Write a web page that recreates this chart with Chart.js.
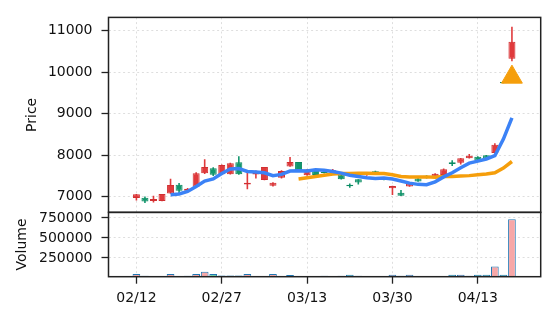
<!DOCTYPE html>
<html>
<head>
<meta charset="utf-8">
<script src="https://cdn.jsdelivr.net/npm/chart.js@4.4.1/dist/chart.umd.min.js"></script>
<style>
  html, body { margin: 0; padding: 0; background: #fff; }
  canvas { display: block; }
</style>
</head>
<body>
<canvas id="chart" width="556" height="322"></canvas>
<script>
// trading days, one candle each
const dates = ["02/12","02/13","02/17","02/18","02/19","02/20","02/23","02/24","02/25","02/26",
  "02/27","03/02","03/03","03/04","03/05","03/06","03/09","03/10","03/11","03/12",
  "03/13","03/16","03/17","03/18","03/19","03/20","03/23","03/24","03/25","03/26",
  "03/30","03/31","04/01","04/02","04/03","04/06","04/07","04/08","04/09","04/10",
  "04/13","04/14","04/15","04/16","04/17"];

const opens = [6970,6980,6900,6900,7080,7290,7145,7240,7565,7690,
  7545,7545,7830,7295,7535,7405,7265,7460,7730,7835,
  7520,7655,7600,7600,7540,7290,7420,7520,7615,7450,
  7205,7100,7250,7440,7510,7485,7525,7830,7820,7930,
  7965,8000,8055,9765,10320];
const closes = [7060,6885,6950,7065,7285,7145,7195,7570,7720,7530,
  7765,7805,7545,7340,7580,7715,7340,7620,7840,7645,
  7660,7525,7575,7640,7420,7255,7345,7545,7560,7420,
  7260,7025,7325,7370,7450,7555,7665,7790,7930,7990,
  7875,7925,8255,9735,10730];
const highs = [7065,7005,7025,7070,7435,7330,7210,7590,7905,7710,
  7780,7820,7975,7580,7635,7720,7350,7640,7960,7840,
  7670,7660,7610,7670,7545,7320,7425,7555,7625,7465,
  7265,7165,7330,7450,7520,7565,7680,7880,7935,8030,
  7975,8005,8290,9770,11095];
const lows = [6910,6850,6865,6895,7075,7090,7140,7230,7550,7500,
  7540,7535,7530,7185,7440,7400,7250,7440,7725,7640,
  7510,7515,7560,7595,7415,7220,7295,7510,7555,7400,
  7045,7020,7240,7360,7440,7480,7520,7740,7780,7925,
  7870,7920,8040,9730,10260];
const volumes = [48000,27000,25000,21000,48000,22000,26000,48000,77000,48000,
  30000,30000,30000,48000,22000,23000,48000,22000,36000,22000,
  21000,22000,28000,20000,28000,40000,28000,19000,19000,20000,
  40000,28000,40000,20000,19000,20000,21000,40000,40000,28000,
  40000,40000,142000,40000,733000];

const ma5 = [null,null,null,null,7050,7070,7130,7250,7380,7430,
  7560,7670,7680,7610,7600,7580,7510,7540,7620,7630,
  7620,7650,7640,7610,7570,7520,7490,7460,7440,7450,
  7430,7380,7330,7300,7290,7360,7480,7580,7700,7810,
  7860,7910,7990,8390,8900];
const ma20 = [null,null,null,null,null,null,null,null,null,null,
  null,null,null,null,null,null,null,null,null,7430,
  7460,7490,7520,7550,7560,7560,7570,7570,7560,7560,
  7530,7490,7480,7480,7480,7470,7490,7490,7500,7510,
  7530,7550,7580,7690,7850];

const signalIdx = [44];
const signalPrice = [9880];

const priceTicks = [7000, 8000, 9000, 10000, 11000];
const volTicks = [250000, 500000, 750000];
const dateTicks = [0, 10, 20, 30, 40];

const RED = "#e03a3c", RED_EDGE = "#d12f31";
const GREEN = "#12976e", GREEN_EDGE = "#0c8a62";
const GRID = "#dedede";

const isUp = closes.map((c, i) => c >= opens[i]);

Chart.defaults.font.family = "DejaVu Sans";
Chart.defaults.font.size = 14;
Chart.defaults.color = "#111";

const framePlugin = {
  id: "frame",
  afterDraw(chart) {
    const {ctx, chartArea} = chart;
    ctx.save();
    ctx.strokeStyle = "#222";
    ctx.lineWidth = 1.5;
    ["y", "yv"].forEach(id => {
      let s = chart.scales[id];
      ctx.strokeRect(chartArea.left, s.top, chartArea.right - chartArea.left, s.bottom - s.top);
    });
    ctx.restore();
  }
};

const gridOpts = {
  color: GRID,
  lineWidth: 1,
  offset: false,
  tickLength: 7,
  tickColor: "#222",
  tickWidth: 1.3
};

new Chart(document.getElementById("chart"), {
  data: {
    datasets: [
      {
        type: "line",
        data: signalIdx.map((x, i) => ({x: x, y: signalPrice[i]})),
        showLine: false,
        pointStyle: "triangle",
        pointRadius: 12,
        backgroundColor: "#f59e0b",
        borderColor: "#f59e0b",
        borderWidth: 1,
        order: 0
      },
      {
        type: "line",
        data: ma5.map((v, i) => ({x: i, y: v})),
        borderColor: "#3b82f6",
        borderWidth: 3.5,
        pointRadius: 0,
        tension: 0,
        order: 1
      },
      {
        type: "line",
        data: ma20.map((v, i) => ({x: i, y: v})),
        borderColor: "#f59e0b",
        borderWidth: 3.5,
        pointRadius: 0,
        tension: 0,
        order: 1
      },
      {
        type: "bar",
        data: dates.map((d, i) => ({x: i, y: [opens[i], closes[i]]})),
        backgroundColor: isUp.map(u => u ? RED : GREEN),
        borderColor: isUp.map(u => u ? RED_EDGE : GREEN_EDGE),
        borderWidth: 1,
        borderSkipped: false,
        grouped: false,
        barPercentage: 0.82,
        categoryPercentage: 1,
        order: 2
      },
      {
        type: "bar",
        data: dates.map((d, i) => ({x: i, y: [lows[i], highs[i]]})),
        backgroundColor: isUp.map(u => u ? RED : GREEN),
        borderWidth: 0,
        grouped: false,
        maxBarThickness: 1.6,
        order: 3
      },
      {
        type: "bar",
        yAxisID: "yv",
        data: dates.map((d, i) => ({x: i, y: volumes[i]})),
        backgroundColor: isUp.map(u => u ? "#f7a7a7" : "#74d6ab"),
        borderColor: "#1f77b4",
        borderWidth: 1,
        borderSkipped: false,
        grouped: false,
        barPercentage: 0.9,
        categoryPercentage: 1,
        order: 4
      }
    ]
  },
  options: {
    responsive: false,
    animation: false,
    layout: { padding: { top: 14.7, right: 15.3, bottom: 0, left: 0 } },
    plugins: {
      legend: { display: false },
      tooltip: { enabled: false }
    },
    scales: {
      x: {
        type: "linear",
        offset: false,
        min: -3.27,
        max: 47.37,
        grid: gridOpts,
        border: { display: false, dash: [2, 2.7] },
        ticks: {
          autoSkip: false,
          maxRotation: 0,
          padding: 6,
          callback: v => dates[v]
        },
        afterBuildTicks: s => { s.ticks = dateTicks.map(v => ({value: v})) },
        afterFit: s => { s.height = 45.3 }
      },
      y: {
        type: "linear",
        position: "left",
        stack: "panels",
        stackWeight: 197,
        weight: 1,
        min: 6626,
        max: 11317,
        grid: gridOpts,
        border: { display: false, dash: [2, 2.7] },
        ticks: { padding: 9, autoSkip: false, callback: v => String(v) },
        afterBuildTicks: s => { s.ticks = priceTicks.map(v => ({value: v})) },
        afterFit: s => { s.width = 108.5 },
        title: { display: true, text: "Price", padding: { top: 23.6, bottom: 0 } }
      },
      yv: {
        type: "linear",
        position: "left",
        stack: "panels",
        stackWeight: 65,
        weight: 0,
        min: 15000,
        max: 819000,
        grid: gridOpts,
        border: { display: false, dash: [2, 2.7] },
        ticks: { padding: 9, autoSkip: false, callback: v => String(v) },
        afterBuildTicks: s => { s.ticks = volTicks.map(v => ({value: v})) },
        afterFit: s => { s.width = 108.5 },
        title: { display: true, text: "Volume", padding: { top: 13.6, bottom: 0 } }
      }
    }
  },
  plugins: [framePlugin]
});
</script>
</body>
</html>
